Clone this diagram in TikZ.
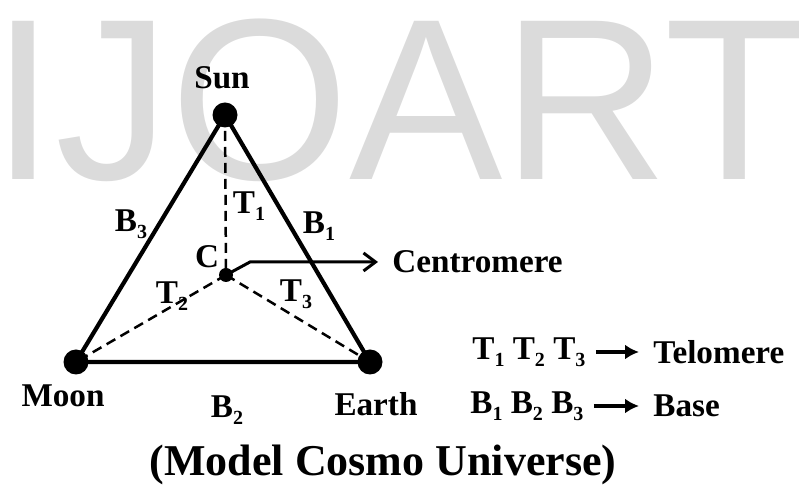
\documentclass[tikz,border=0pt]{standalone}
\usepackage{fontspec}
\setmainfont{Liberation Serif}
\newfontfamily\wmfont{Liberation Sans}
\usetikzlibrary{arrows.meta}
\newcommand\idx[1]{\raisebox{-0.45ex}{\fontsize{10}{10}\selectfont #1}}

\begin{document}
\begin{tikzpicture}[x=0.5pt,y=-0.5pt,>=Latex,
  every node/.style={font=\bfseries\fontsize{16.6}{19}\selectfont,inner sep=0pt},
  body/.style={circle,fill=black,minimum size=12.5pt},
  core/.style={circle,fill=black,minimum size=7pt},
  side/.style={line width=2.1pt},
  tel/.style={line width=1.25pt,dash pattern=on 5pt off 3pt},
  legarrow/.style={line width=1.7pt,-{Latex[length=7pt,width=7.5pt]},shorten <=5pt,shorten >=7pt}]
\useasboundingbox (0,0) rectangle (799,491);
% watermark
\node[text=black!14,font=\wmfont\fontsize{115}{115}\selectfont,anchor=base west] (wm) at (-9,180) {IJOART};

% the three bodies and the centre
\node[body] (sun) at (225,115) {};
\node[body] (moon) at (76,362) {};
\node[body] (earth) at (370,362) {};
\node[core] (c) at (226,275) {};

% bases (solid) and telomeres (dashed)
\draw[side] (sun.center) -- (moon.center) -- (earth.center) -- cycle;
\draw[tel] (sun.center) -- (c.center);
\draw[tel] (c.center) -- (moon.center);
\draw[tel] (c.center) -- (earth.center);

% labels
\node (sunlbl) at (222,78) {Sun};
\node (moonlbl) at (63,396) {Moon};
\node (earthlbl) at (376,404) {Earth};
\node (clbl) at (207,257) {C};
\node (b3) at (131,224) {B\idx{3}};
\node (b1) at (319,226) {B\idx{1}};
\node (b2) at (227,410) {B\idx{2}};
\node (t1) at (249,206) {T\idx{1}};
\node (t2) at (172,296) {T\idx{2}};
\node (t3) at (296,294) {T\idx{3}};

% centromere pointer
\node[anchor=west] (cen) at (392,262) {Centromere};
\coordinate (knee) at (250,262);
\draw[line width=1.5pt,-{Straight Barb[length=6pt,width=9pt]},shorten >=7pt] (c.center) -- (knee) -- (cen.west);

% legend
\node[anchor=west] (tset) at (472,352) {T\idx{1} T\idx{2} T\idx{3}};
\node[anchor=west] (telo) at (653,352) {Telomere};
\draw[legarrow] (tset) -- (telo);
\node[anchor=west] (bset) at (470,406) {B\idx{1} B\idx{2} B\idx{3}};
\node[anchor=west] (base) at (653,406) {Base};
\draw[legarrow] (bset) -- (base);

\node[font=\bfseries\fontsize{22}{26}\selectfont] (title) at (383,465) {(Model Cosmo Universe)};
\end{tikzpicture}
\end{document}
